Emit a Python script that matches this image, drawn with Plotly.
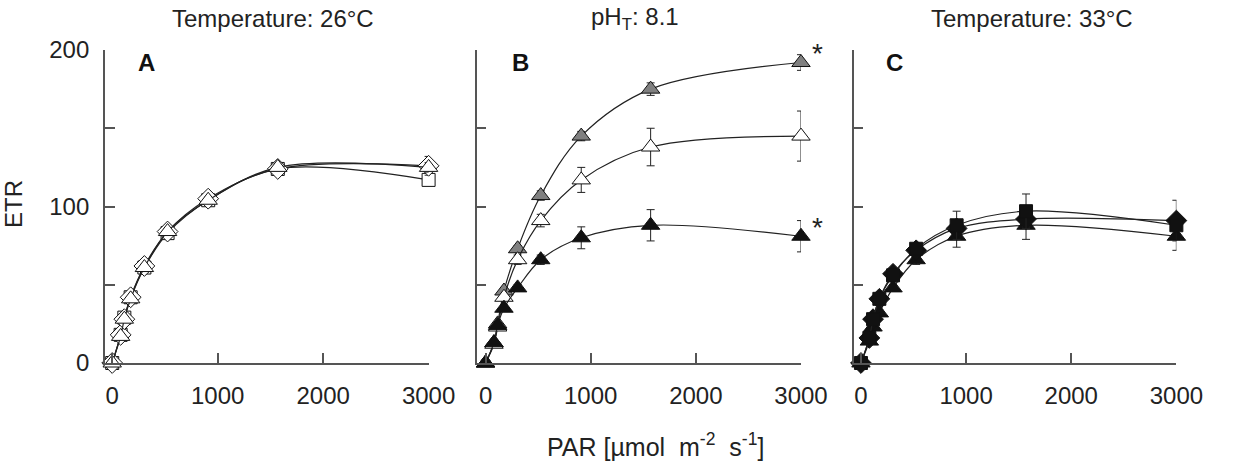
import plotly.graph_objects as go

# ---------------- data ----------------
PAR = [0, 80, 115, 175, 305, 525, 910, 1570, 3000]

# Panel A (26 °C)
A_square = [0, 18, 29, 42, 61, 83, 104, 124, 117]
A_square_err = [0, 1, 1, 1, 2, 2, 2, 2, 3]
A_diamond = [0, 18, 28, 42, 62, 84, 105, 124, 126]
A_diamond_err = [0, 1, 1, 1, 2, 2, 2, 2, 6]
A_triangle = [0, 17, 28, 41, 61, 84, 104, 125, 125]
A_triangle_err = [0, 1, 1, 1, 2, 2, 2, 2, 3]

# Panel B (pH 8.1)
B_gray = [0, 13, 25, 46, 73, 107, 145, 175, 192]
B_gray_err = [0, 1, 1, 2, 2, 3, 3, 4, 5]
B_white = [0, 12, 23, 42, 66, 91, 117, 138, 145]
B_white_err = [0, 1, 1, 2, 3, 4, 8, 12, 16]
B_black = [0, 13, 24, 35, 48, 66, 80, 88, 81]
B_black_err = [0, 1, 1, 2, 2, 3, 7, 10, 10]

# Panel C (33 °C)
C_triangle = [0, 14, 23, 32, 48, 66, 81, 88, 81]
C_triangle_err = [0, 1, 1, 2, 2, 3, 7, 9, 9]
C_diamond = [0, 16, 28, 41, 57, 72, 86, 92, 91]
C_diamond_err = [0, 1, 1, 2, 2, 3, 4, 5, 13]
C_square = [0, 16, 28, 41, 56, 73, 88, 97, 88]
C_square_err = [0, 1, 1, 2, 2, 3, 9, 11, 4]

x_ticks = [0, 1000, 2000, 3000]
x_ticktext = ["0", "1000", "2000", "3000"]
y_ticks = [0, 50, 100, 150, 200]
y_ticktext = ["0", "", "100", "", "200"]

titles = ["Temperature: 26°C", "pH<sub>T</sub>: 8.1", "Temperature: 33°C"]
letters = ["A", "B", "C"]

FONT = "Liberation Sans, Arial, sans-serif"
AXC = "#555555"
W, H = 1245, 462
WEFF = 1220.0  # measured horizontal extent of the drawn figure in the capture

fig = go.Figure()


def add(xa, ya, y, err, symbol, fill, size):
    fig.add_trace(go.Scatter(
        x=PAR, y=y, xaxis=xa, yaxis=ya, mode="lines+markers",
        line=dict(color="#222222", width=1.2, shape="spline", smoothing=1.0),
        marker=dict(symbol=symbol, size=size, color=fill,
                    line=dict(color="#111111", width=1)),
        error_y=dict(type="data", array=err, visible=True, color="#222222",
                     thickness=1, width=4),
        cliponaxis=False, showlegend=False))


add("x", "y", A_square, A_square_err, "square", "white", 13)
add("x", "y", A_diamond, A_diamond_err, "diamond", "white", 16)
add("x", "y", A_triangle, A_triangle_err, "triangle-up", "white", 16)

add("x2", "y2", B_gray, B_gray_err, "triangle-up", "#808080", 16)
add("x2", "y2", B_white, B_white_err, "triangle-up", "white", 16)
add("x2", "y2", B_black, B_black_err, "triangle-up", "#111111", 16)

add("x3", "y3", C_triangle, C_triangle_err, "triangle-up", "#111111", 16)
add("x3", "y3", C_diamond, C_diamond_err, "diamond", "#111111", 16)
add("x3", "y3", C_square, C_square_err, "square", "#111111", 13)


def px(p):
    return p / WEFF


# axes geometry (pixels -> paper)
doms = [(105, 429.3), (477.3, 802.3), (855, 1178.3)]
ranges = [[-70, 3000], [-86, 3000], [-70, 3000]]

layout = dict(
    width=W, height=H, autosize=False,
    margin=dict(l=0, r=0, t=50, b=99),
    paper_bgcolor="white", plot_bgcolor="white",
    font=dict(family=FONT, size=24, color="#222222"),
)
for i in range(3):
    sfx = "" if i == 0 else str(i + 1)
    layout["xaxis" + sfx] = dict(
        domain=[px(doms[i][0]), px(doms[i][1])], range=ranges[i],
        anchor="y" + sfx, showgrid=False, zeroline=False,
        showline=True, linecolor=AXC, linewidth=1.5,
        ticks="inside", ticklen=10, tickwidth=1.5, tickcolor=AXC,
        tickvals=x_ticks, ticktext=x_ticktext,
        tickfont=dict(size=24, color="#222222"), ticklabelstandoff=10)
    layout["yaxis" + sfx] = dict(
        domain=[0, 1], range=[0, 200], anchor="x" + sfx,
        showgrid=False, zeroline=False,
        showline=True, linecolor=AXC, linewidth=1.5,
        ticks="inside", ticklen=10, tickwidth=1.5, tickcolor=AXC,
        tickvals=y_ticks,
        ticktext=y_ticktext if i == 0 else [""] * 5,
        tickfont=dict(size=24, color="#222222"), ticklabelstandoff=9)

fig.update_layout(**layout)

PH = 313.0  # plot height in px


def py(p):
    return (363 - p) / PH


title_x = [273, 636, 1034]
letter_x = [146.7, 521.7, 896]
for i in range(3):
    fig.add_annotation(text=titles[i], xref="paper", yref="paper",
                       x=px(title_x[i]), y=py(18), showarrow=False,
                       xanchor="center", yanchor="middle",
                       font=dict(size=24, family=FONT, color="#222222"))
    fig.add_annotation(text="<b>" + letters[i] + "</b>", xref="paper", yref="paper",
                       x=px(letter_x[i]), y=py(63), showarrow=False,
                       xanchor="center", yanchor="middle",
                       font=dict(size=24, family=FONT, color="#111111"))

fig.add_annotation(text="ETR", xref="paper", yref="paper", x=px(14), y=py(204),
                   textangle=-90, showarrow=False, xanchor="center", yanchor="middle",
                   font=dict(size=24, family=FONT, color="#222222"))
fig.add_annotation(text="PAR [µmol  m<sup>-2</sup>  s<sup>-1</sup>]", xref="paper", yref="paper",
                   x=px(657), y=py(445), showarrow=False, xanchor="center", yanchor="middle",
                   font=dict(size=25, family=FONT, color="#222222"))

# significance asterisks next to last points of panel B
for yv in (B_gray[-1], B_black[-1]):
    fig.add_annotation(text="*", xref="x2", yref="y2", x=PAR[-1], y=yv,
                       xshift=17, yshift=9, showarrow=False,
                       font=dict(size=28, family=FONT, color="#222222"))

fig.write_html("out.html", config={"responsive": False})
